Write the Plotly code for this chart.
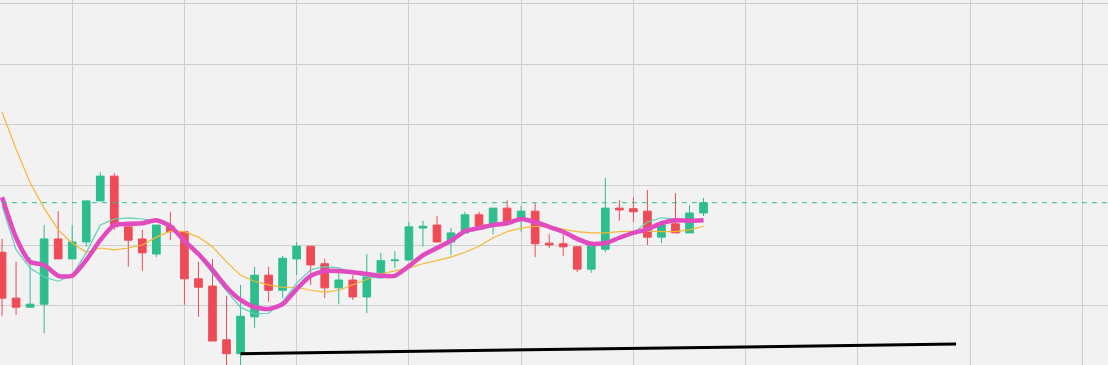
import plotly.graph_objects as go

# ---- data (price units) ----
idx = list(range(51))
open_ = [20.89, 20.13, 19.98, 20.03, 21.11, 20.78, 21.06, 21.74, 22.15, 21.31,
         21.11, 20.86, 21.32, 21.23, 20.45, 20.33, 19.44, 19.21, 19.82, 20.51,
         20.26, 20.78, 20.99, 20.70, 20.30, 20.43, 20.15, 20.55, 20.75, 20.76,
         21.29, 21.34, 21.06, 21.21, 21.51, 21.37, 21.62, 21.44, 21.57, 21.04,
         21.03, 20.98, 20.61, 20.94, 21.62, 21.61, 21.57, 21.14, 21.36, 21.21,
         21.54]
high = [21.11, 20.73, 20.81, 21.34, 21.57, 21.34, 21.74, 22.22, 22.20, 21.31,
        21.26, 21.34, 21.56, 21.23, 20.73, 20.78, 20.17, 20.35, 20.65, 20.65,
        20.83, 21.06, 20.99, 20.78, 20.56, 20.51, 20.86, 20.88, 20.91, 21.39,
        21.41, 21.49, 21.29, 21.56, 21.56, 21.62, 21.75, 21.66, 21.71, 21.19,
        21.19, 20.98, 21.04, 22.12, 21.75, 21.80, 21.92, 21.34, 21.87, 21.67,
        21.79]
low = [19.83, 19.85, 19.97, 19.55, 20.78, 20.78, 20.98, 21.74, 21.26, 20.65,
       20.58, 20.81, 21.09, 20.02, 19.82, 19.42, 18.90, 18.95, 19.64, 20.07,
       20.13, 20.51, 20.35, 20.13, 20.03, 20.10, 19.88, 20.55, 20.63, 20.76,
       20.98, 21.06, 20.84, 21.21, 21.32, 21.19, 21.39, 21.23, 20.81, 20.96,
       20.83, 20.56, 20.55, 20.89, 21.41, 21.39, 21.01, 21.04, 21.21, 21.21,
       21.49]
close = [20.13, 19.98, 20.03, 21.11, 20.78, 21.06, 21.74, 22.15, 21.31, 21.09,
         20.88, 21.34, 21.23, 20.45, 20.31, 19.42, 19.21, 19.83, 20.51, 20.26,
         20.79, 20.99, 20.68, 20.30, 20.43, 20.15, 20.48, 20.75, 20.76, 21.31,
         21.32, 21.06, 21.21, 21.51, 21.32, 21.62, 21.39, 21.57, 21.03, 21.01,
         20.98, 20.61, 21.04, 21.62, 21.59, 21.56, 21.14, 21.34, 21.21, 21.54,
         21.71]

ma_fast = [21.66, 20.93, 20.63, 20.48, 20.41, 20.51, 20.88, 21.34, 21.44, 21.46,
           21.44, 21.41, 21.31, 21.04, 20.83, 20.53, 20.25, 19.98, 19.87, 19.88,
           20.07, 20.38, 20.60, 20.65, 20.63, 20.55, 20.48, 20.46, 20.51, 20.66,
           20.86, 20.99, 21.09, 21.24, 21.32, 21.37, 21.39, 21.46, 21.39, 21.31,
           21.21, 21.08, 20.99, 21.04, 21.13, 21.21, 21.39, 21.46, 21.44, 21.39,
           21.41]
ma_mid = [21.80, 21.13, 20.73, 20.68, 20.50, 20.50, 20.76, 21.09, 21.34, 21.36,
          21.37, 21.42, 21.32, 21.08, 20.86, 20.60, 20.31, 20.10, 19.98, 19.95,
          20.03, 20.28, 20.50, 20.58, 20.58, 20.56, 20.53, 20.50, 20.50, 20.66,
          20.84, 20.96, 21.08, 21.24, 21.29, 21.34, 21.37, 21.44, 21.39, 21.31,
          21.23, 21.11, 21.03, 21.04, 21.13, 21.21, 21.27, 21.37, 21.42, 21.41,
          21.42]
ma_slow = [23.21, 22.60, 22.04, 21.62, 21.26, 21.04, 20.89, 20.96, 20.93, 20.96,
           21.01, 21.14, 21.24, 21.23, 21.14, 20.98, 20.73, 20.51, 20.41, 20.35,
           20.31, 20.31, 20.26, 20.23, 20.26, 20.35, 20.45, 20.53, 20.58, 20.63,
           20.70, 20.75, 20.81, 20.89, 20.99, 21.13, 21.23, 21.29, 21.32, 21.31,
           21.27, 21.23, 21.21, 21.21, 21.23, 21.24, 21.24, 21.23, 21.23, 21.26,
           21.32]

trend_x = [17, 68]
trend_y = [19.21, 19.37]
last_price = 21.71

UP = "#2ebd8c"
DOWN = "#ef4b57"

fig = go.Figure()
fig.add_trace(go.Candlestick(
    x=idx, open=open_, high=high, low=low, close=close,
    increasing=dict(line=dict(color=UP, width=1), fillcolor=UP),
    decreasing=dict(line=dict(color=DOWN, width=1), fillcolor=DOWN),
    whiskerwidth=0, showlegend=False, hoverinfo="skip"))
fig.add_trace(go.Scatter(x=idx, y=ma_slow, mode="lines",
                         line=dict(color="#f7b733", width=1.2), showlegend=False, hoverinfo="skip"))
fig.add_trace(go.Scatter(x=idx, y=ma_fast, mode="lines",
                         line=dict(color="#5ccfbb", width=1.2), showlegend=False, hoverinfo="skip"))
fig.add_trace(go.Scatter(x=idx, y=ma_mid, mode="lines",
                         line=dict(color="#e24bbf", width=4.5, shape="spline", smoothing=0.6),
                         showlegend=False, hoverinfo="skip"))
fig.add_trace(go.Scatter(x=[-5, 100], y=[last_price, last_price], mode="lines",
                         line=dict(color=UP, width=1, dash="5px,5px"), showlegend=False, hoverinfo="skip"))
fig.add_trace(go.Scatter(x=trend_x, y=trend_y, mode="lines",
                         line=dict(color="#000000", width=3), showlegend=False, hoverinfo="skip"))

fig.update_layout(
    width=1108, height=365,
    margin=dict(l=0, r=0, t=0, b=0),
    paper_bgcolor="#f2f2f2", plot_bgcolor="#f2f2f2",
    boxgap=0.22,
    xaxis=dict(range=[-0.146, 78.83], tick0=5, dtick=8, showgrid=True,
               gridcolor="#cfcfcf", gridwidth=1, showticklabels=False,
               zeroline=False, rangeslider=dict(visible=False), showline=False,
               ticks=""),
    yaxis=dict(range=[19.023, 25.066], tick0=20, dtick=1, showgrid=True,
               gridcolor="#cfcfcf", gridwidth=1, showticklabels=False,
               zeroline=False, showline=False, ticks=""),
)

fig.write_html("out.html", config={"displayModeBar": False},
               post_script="document.body.style.margin='0';document.body.style.background='#f2f2f2';")
